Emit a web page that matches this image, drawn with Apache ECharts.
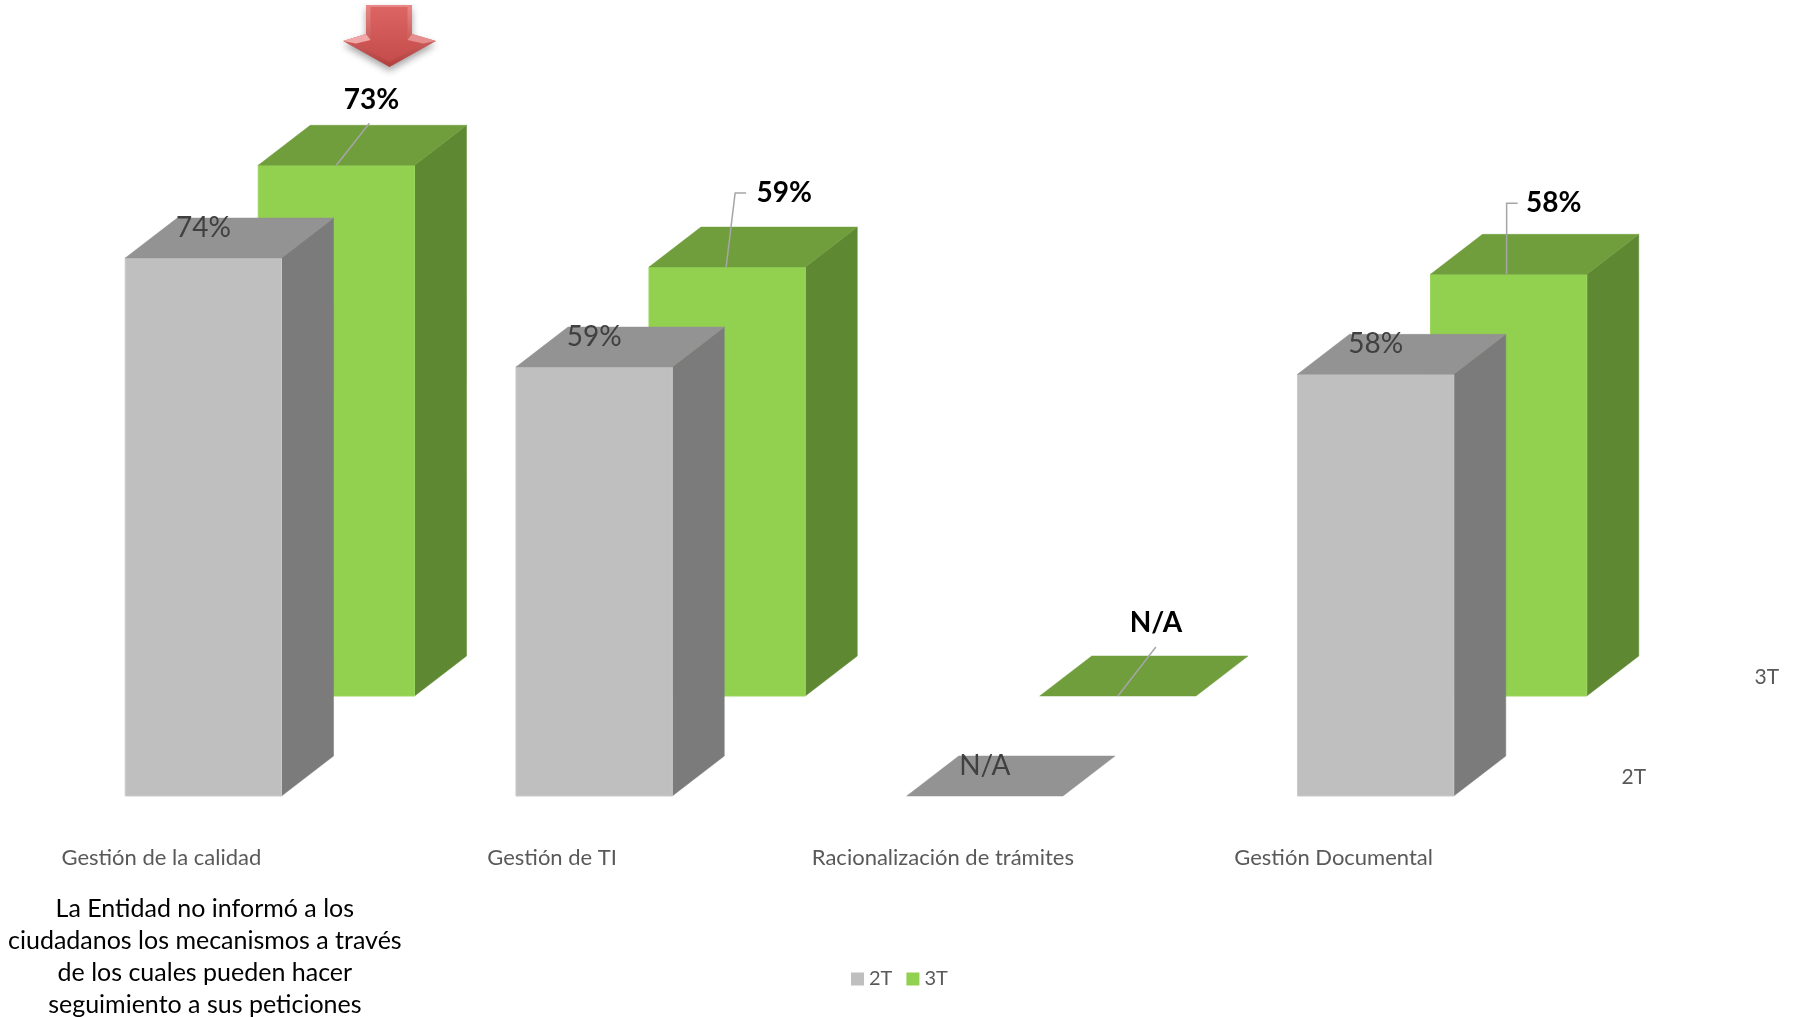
<!DOCTYPE html>
<html>
<head>
<meta charset="utf-8">
<script src="https://cdn.jsdelivr.net/npm/echarts@6/dist/echarts.min.js"></script>
<style>
  html, body { margin: 0; padding: 0; background: #ffffff; }
  #chart { width: 1801px; height: 1017px; }
</style>
</head>
<body>
<div id="chart"></div>
<script>
// Categories and quarterly results (null = not applicable)
const categories = ['Gestión de la calidad', 'Gestión de TI', 'Racionalización de trámites', 'Gestión Documental'];
const seriesNames = ['2T', '3T'];
const values2T = [74, 59, null, 58];
const values3T = [73, 59, null, 58];
const noteLines = [
  'La Entidad no informó a los',
  'ciudadanos los mecanismos a través',
  'de los cuales pueden hacer',
  'seguimiento a sus peticiones'
];

// Callout placement for the 3T labels: label centre and leader path,
// both relative to the centre of the bar's front top edge.
const callouts3T = [
  { label: [35, -65], path: [[0, 0], [33, -42]] },
  { label: [57, -74], path: [[-1, 0], [8, -74], [19, -74]] },
  { label: [38, -73], path: [[0, 0], [38, -49]] },
  { label: [45, -71], path: [[-2, 0], [-2, -71], [9, -71]] }
];

const FONT = 'Lato, "Open Sans", "Noto Sans", sans-serif';
const DEPTH = [52, 40];          // bar depth projection (dx, -dy)
const ROW_SHIFT = [133, -100];   // offset of the back (3T) row
const BAR_RATIO = 0.4;

const faces = {
  '2T': { front: '#BFBFBF', top: '#939393', side: '#7B7B7B', edge: '#CACACA' },
  '3T': { front: '#92D050', top: '#709E3D', side: '#5F8833', edge: '#9CD65E' }
};

function labelText(v) {
  return v == null ? 'N/A' : v + '%';
}

function makeRenderer(name, values, shift) {
  const c = faces[name];
  return function (params, api) {
    const i = params.dataIndex;
    const ci = api.value(0);
    const v = api.value(1);
    const base = api.coord([ci, 0]);
    const topPt = api.coord([ci, v]);
    const bw = api.size([1, 0])[0] * BAR_RATIO;
    const x0 = base[0] - bw / 2 + shift[0];
    const x1 = x0 + bw;
    const yb = base[1] + shift[1];
    const yt = topPt[1] + shift[1];
    const dx = DEPTH[0], dy = DEPTH[1];
    const cx = x0 + bw / 2;
    const children = [];

    if (yb - yt > 0.5) {
      children.push({
        type: 'polygon',
        shape: { points: [[x1, yt], [x1 + dx, yt - dy], [x1 + dx, yb - dy], [x1, yb]] },
        style: { fill: c.side, stroke: c.side, lineWidth: 0.5 }
      });
      children.push({
        type: 'rect',
        shape: { x: x0, y: yt, width: bw, height: yb - yt },
        style: { fill: c.front, stroke: c.edge, lineWidth: 1 }
      });
    }
    children.push({
      type: 'polygon',
      shape: { points: [[x0, yt], [x1, yt], [x1 + dx, yt - dy], [x0 + dx, yt - dy]] },
      style: { fill: c.top, stroke: c.top, lineWidth: 0.5 }
    });

    const raw = values[i];
    if (name === '2T') {
      children.push({
        type: 'text',
        style: {
          text: labelText(raw), x: cx, y: yt - 30,
          fill: '#404040', font: '28px ' + FONT,
          align: 'center', verticalAlign: 'middle',
          textAlign: 'center', textVerticalAlign: 'middle'
        },
        z2: 20
      });
    } else {
      const co = callouts3T[i];
      children.push({
        type: 'polyline',
        shape: { points: co.path.map(p => [cx + p[0], yt + p[1]]) },
        style: { stroke: '#A6A6A6', lineWidth: 1.5, fill: null },
        z2: 15
      });
      children.push({
        type: 'text',
        style: {
          text: labelText(raw), x: cx + co.label[0], y: yt + co.label[1],
          fill: '#000000', font: 'bold 28px ' + FONT,
          align: 'center', verticalAlign: 'middle',
          textAlign: 'center', textVerticalAlign: 'middle'
        },
        z2: 20
      });
    }

    // series (depth) axis label at the end of each row
    if (i === values.length - 1) {
      children.push({
        type: 'text',
        style: {
          text: name, x: x1 + 180, y: yb - 19,
          fill: '#595959', font: '21px ' + FONT,
          align: 'center', verticalAlign: 'middle',
          textAlign: 'center', textVerticalAlign: 'middle'
        }
      });
    }
    return { type: 'group', children: children };
  };
}

const chart = echarts.init(document.getElementById('chart'), null, { renderer: 'canvas' });

const option = {
  animation: false,
  backgroundColor: '#ffffff',
  grid: { left: 8, width: 1563, top: 69, bottom: 221, containLabel: false },
  xAxis: {
    type: 'category',
    data: categories,
    boundaryGap: true,
    axisLine: { show: false },
    axisTick: { show: false },
    splitLine: { show: false },
    axisLabel: {
      interval: 0,
      margin: 51,
      color: '#595959',
      fontFamily: FONT,
      fontSize: 22,
      padding: [0, 84, 0, 0]
    }
  },
  yAxis: { type: 'value', min: 0, max: 100, show: false },
  legend: {
    data: seriesNames,
    left: 846,
    top: 964,
    icon: 'rect',
    itemWidth: 13,
    itemHeight: 13,
    itemGap: 14,
    textStyle: { color: '#595959', fontFamily: FONT, fontSize: 20 }
  },
  series: [
    {
      name: '3T',
      type: 'custom',
      z: 2,
      clip: false,
      itemStyle: { color: faces['3T'].front },
      encode: { x: 0, y: 1 },
      data: values3T.map((v, i) => [i, v == null ? 0 : v]),
      renderItem: makeRenderer('3T', values3T, ROW_SHIFT)
    },
    {
      name: '2T',
      type: 'custom',
      z: 3,
      clip: false,
      itemStyle: { color: faces['2T'].front },
      encode: { x: 0, y: 1 },
      data: values2T.map((v, i) => [i, v == null ? 0 : v]),
      renderItem: makeRenderer('2T', values2T, [0, 0])
    }
  ],
  graphic: [
    // downward arrow marking the drop in the first category
    {
      type: 'polygon',
      z: 10,
      shape: {
        points: [[366, 5], [412, 5], [412, 34], [436, 41], [389.5, 67], [343, 41], [366, 34]]
      },
      style: {
        fill: {
          type: 'linear', x: 0, y: 0, x2: 0, y2: 1,
          colorStops: [{ offset: 0, color: '#E98886' }, { offset: 1, color: '#B23E3C' }]
        },
        shadowBlur: 7, shadowOffsetY: 4, shadowColor: 'rgba(0,0,0,0.35)'
      }
    },
    {
      type: 'polygon',
      z: 11,
      shape: {
        points: [[370.5, 7], [407.5, 7], [407.5, 40], [423, 43.5], [389.5, 62], [356, 43.5], [370.5, 40]]
      },
      style: {
        fill: {
          type: 'linear', x: 0, y: 0, x2: 0, y2: 1,
          colorStops: [{ offset: 0, color: '#DC6463' }, { offset: 1, color: '#C44D4B' }]
        }
      }
    },
    {
      type: 'polygon',
      z: 12,
      shape: { points: [[343, 41], [366, 34], [370.5, 40], [356, 43.5]] },
      style: { fill: '#F0A9A8' }
    },
    {
      type: 'polygon',
      z: 12,
      shape: { points: [[412, 34], [436, 41], [423, 43.5], [407.5, 40]] },
      style: { fill: '#E58E8D' }
    },
    // explanatory note
    {
      type: 'text',
      left: 8,
      top: 893,
      z: 10,
      style: {
        text: noteLines.join('\n'),
        x: 200,
        y: 0,
        fill: '#000000',
        font: '25px ' + FONT,
        lineHeight: 32,
        align: 'center',
        textAlign: 'center'
      }
    }
  ]
};

chart.setOption(option);
</script>
</body>
</html>
